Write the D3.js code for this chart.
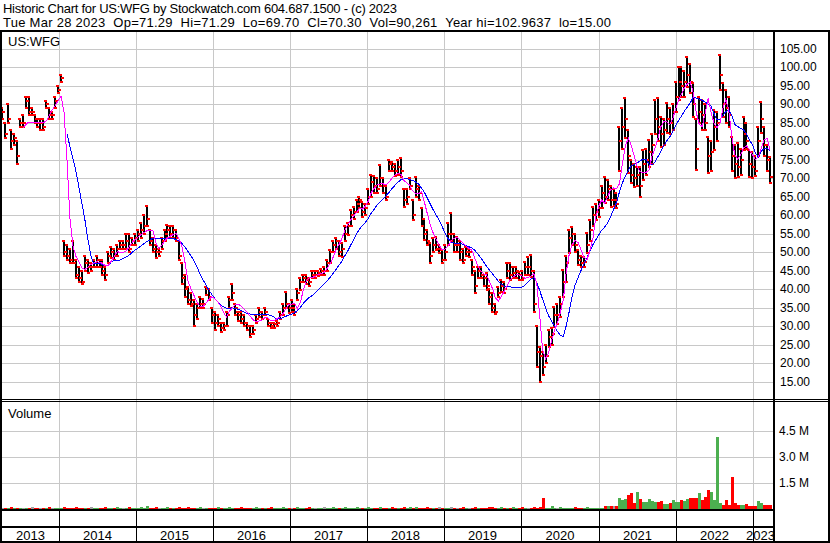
<!DOCTYPE html>
<html><head><meta charset="utf-8">
<script src="https://cdn.jsdelivr.net/npm/d3@7"></script>
<style>
html,body{margin:0;padding:0;background:#fff;}
svg{display:block;font-family:"Liberation Sans",Arial,sans-serif;}
</style></head><body>
<svg id="c" width="830" height="543"></svg>
<script>
// ---------- DATA ----------
const symbol = "US:WFG";
const headerLine1 = "Historic Chart for US:WFG by Stockwatch.com 604.687.1500 - (c) 2023";
const headerLine2 = "Tue Mar 28 2023  Op=71.29  Hi=71.29  Lo=69.70  Cl=70.30  Vol=90,261  Year hi=102.9637  lo=15.00";
const firstPeriod = "2013-04-06";   // bars are two-week periods
const periodDays = 14;
const priceHigh = [89,85,90,83,82,80,86,87,92,92,89,87,86,86,86,91,89,88,92,95,98,
 53,52,51,53,48,46,45,49,48,47,48,49,48,48,46,50,51.5,51,52,53,53,55,55,54,55,
 56,58,60,62.5,56,54,52,51,54,56,57.5,57,57,56,53,47,44,40.5,39,37,36,38,37.5,40.7,40,
 35,34,33,31,31,34,38,41.5,36,34,34,33,31,30,30,33,35,34,35,32,31,31,31.5,34,36,39.4,
 36,37,36,40,43,44,44,43,45,45,45,45.5,46,48,50.6,53,54,53,52.5,57,58,61.4,62.3,64,65,63.5,
 63,67,71,70.5,70,73.6,70,68,75,74.5,74,75,75.4,67,67,70,64,70.4,68,62,59,56,52.4,54,54.2,52,
 50.6,52,57.8,60.7,55,54.2,53,51,51.5,51,48,45,46,46,44,44.3,40,38.9,36,40.7,42.5,42,47,47,46,46,
 44.8,45,47.5,48.8,49.3,45,30,24.5,23,25,29,29.5,35.3,36,38,45.2,49,56,56.9,55,50.6,49,48.8,55.1,58.7,62.3,63,
 64,68,70.4,69.5,68,67,66,84,89,91.6,83,75,74,73,73.1,77.6,78,80.4,82,91.2,91.6,86.6,86,90.3,89,90,
 96,100.2,100,99,102.9,101,95.7,86,92,91.2,90,81.2,80,88.5,88,103.4,95.7,93.9,92,81.2,79,79.5,78,86.6,85,77.6,
 77,76,84,90.7,84,79,75.8];
const priceLow = [86,81,85,78,79,74,84,84,89,87,87,85,84,83,83,89,86,86,89,93,96,
 49,48,47,47,43,42,41.5,45,44.5,45,46,46,46,44,42.5,47,48.5,48,49,51,51,51,50,52,52,
 53,54,55,57,52,50,48.5,49,51,53,54,54,54,53,48,41.5,38,36,35.5,30,32,35,35,38.5,37,
 31,29,30,28.5,29,30,35,37,33,31.5,31,30,29,27.2,28,31,32.5,32,33,30,29.5,29.5,30,32,33,35,
 33.5,34,33,37,39.8,42,41.5,41,43,43,43.5,44,44,45,47,50,51,49,48.7,53,54.7,57,59,61,62,59.6,
 60,63,65,66,66,68,66,64,72,72,70.5,71,70.4,62.3,63,67,58.7,65,64,57,53.3,52,47,50,50.5,49.7,
 47,48,52,53,50,50,48,47,49,48.8,44,38.9,43,43,41,39.8,36,34,33.2,38,39.4,39,43,42.5,43,43,
 42.5,42.5,44,44,43.4,34,19,15,16.8,20,24.5,25,29.9,30.5,32.6,38,42,49.7,52,50,46.6,46.1,46.1,49.7,53,57,58.7,
 59.6,62,63.2,64,62.3,62.5,61.9,72,78,81,71.4,68.6,67.7,68,65,69.5,71,73.1,74,82,80,78.5,79,82.2,82,83,
 88,91.2,92,92,94.8,93,86.6,72.2,84.9,83,83,71.4,72,77.6,80,93.9,86.6,84.9,84,72,70,70.4,71,77.6,78,70.4,
 70,70.5,76,82.2,76,72,68.6];
const priceClose = [88,82,86,80,81,76,85,85,91,88,88,86,85,85,84,90,87,87,91,94,97,
 50,49,48,47,44,43,42,47,46,46,47,48,47,45,44,49,50,49,51,52,52,53,51,53,54,
 55,56,57,59,53,51,50,50,53,55,56,55,56,54,49,43,40,37,36,33,35,36,36,40,38,
 33,31,32,29.5,30,33,37,39,35,33,32,31,30,28,29,32,34,33,34,31,30,30.5,31,33,35,36,
 35,35,34,39,42,43,42.5,42,44,44,44.5,45,45,47,50,52,53,50,51,55,57,60,61,63,64,61,
 62,65,69,68,67,70,68,65,74,73,72,73,72,64,65,68,60,67,66,59,55,53,49,52,51,51,
 48,50,55,55,52,52,50,48,50,50,46,41,45,44,43,41,38,35,34,39,41,40,45,44,44.5,45,
 44,43,46,46,45,36,23,22,19,22,27,28,33,33,36,42,47,54,55,52,48,47,47.5,52,56,60,61,
 62,66,65,67,64,64,63,80,84,86,76,71,70,71,68,74,75,77,79,86,84,82,83,86,85,88,
 92,96,95,96,98,96,90,78,88,87,85,76,77,84,85,98,90,89,87,76,74,73,75,82,80,74,
 73,72,80,86,79,75,70.3];
const ma50 = [null,null,null,null,null,null,null,
 83.5,84.5,85.2,85.2,85.1,85,85,85,85.5,87,88.5,89.7,91,92.2,
 87.8,74.8,59,51.8,48.9,47.5,45.8,45.3,45.9,46.7,47.1,47.5,47.3,47,46.4,46.5,47.6,48.9,50.2,49.9,49.9,50.4,51.4,52.6,53.4,
 54.1,54.8,55.3,55.8,56,56,52.8,51.2,51.8,53,53.9,54.4,54.8,55.1,53.5,51.3,47,42,40.1,38.3,36.5,35.5,35.2,36.3,37.2,
 38,37.5,36.7,35.4,33.7,32.5,34.1,35,35.9,36,35.4,34.6,33.8,32.7,31.8,31.2,31.4,31.7,32.3,32.3,31.5,31.5,32,32.5,33.3,34.6,
 35.8,36,36.2,34.8,36.5,39.8,42.3,43.2,43.2,43.5,44,44.2,44.5,45.6,46.9,48.5,50.5,52,53.6,55.8,57.4,58.7,59.8,60.8,61.8,61.7,
 62.5,63.9,66.1,67.3,68.2,68.5,68.5,68.2,69,70,70.9,71.3,71.1,69.4,68.8,68.1,66.6,65.8,65.8,66.4,63.5,60.3,57.4,55.1,53.5,51.9,
 50.6,50.9,51.7,53,53.8,54.1,53.4,52.6,51.7,51.1,50.6,48.5,46.5,45,44.2,43.9,42.1,40.2,37.7,36.8,38,39.5,40.9,42.5,43.3,43.9,
 43.9,43.6,43,43.2,43.6,44.2,41.6,33,23.5,21.2,22.8,26,28.9,30.9,33.8,37.1,44.7,49.5,52.1,53.2,52.6,50.7,48.6,48,50.4,53.7,59.5,
 62.5,64.1,63.3,65,66.9,67.4,67.2,68.5,74,78.8,80.8,78.9,76,73.2,71.8,71.5,71.6,72.2,76,78,80.8,83.9,85.3,85.3,84.5,86,
 88.6,91,92.8,94.5,95.5,96,93,87.8,84.6,84,87.6,91.6,87.9,84.9,83.7,84.8,88.8,91.4,88.4,81.4,76.4,75.2,76.2,78.2,78.8,77.7,
 76.5,75,75.8,78.1,80.5,80.7,77.5];
const ma200 = [null,null,null,null,null,null,null,null,null,null,null,null,null,null,null,null,null,null,null,null,null,null,
 81.9,78.6,75.4,72,67.7,63.4,59.1,53.8,49.4,47,47,47,46.7,46.3,46.5,47.4,47.9,47.9,47.9,48.3,48.7,49.2,50,50.6,
 51.1,51.7,52.3,52.9,53.3,53.8,53.8,53.8,53.8,53.7,53.7,53.8,53.7,53.4,53,52.3,51.3,50.2,49,47.7,46,44.2,42.6,41.2,39.8,
 38.6,37.5,36.6,35.7,35.3,34.9,34.9,35,34.8,34.6,34.3,33.8,33.5,33.3,33.2,33.2,33.3,33.3,33.3,33.2,32.9,32.5,31.9,32.1,32.3,32.7,
 33,33.3,33.7,34.2,35.1,36.2,37,37.8,38.3,39,39.8,40.6,41.4,42.2,43.2,44.2,45.3,46.5,47.5,49,50.3,51.9,53.4,55,56.2,57.3,
 58.1,59.2,60.6,61.7,62.8,63.7,64.5,65.3,66.2,67.2,68.1,68.9,69.6,69.8,69.9,69.7,69.4,69,68.5,67.3,66.2,64.6,63,61.4,60,58.6,
 56.9,55.1,53.7,52.8,52.5,52.4,52.4,52.2,51.8,51.5,51.2,50.6,49.6,48.6,47.4,46.2,45.2,44.2,43.2,42.2,41.4,40.9,40.7,40.7,40.5,40.4,
 40.4,40.6,41.1,42,42.8,43.2,41.9,39.7,37.3,34.9,32.9,31.4,30.1,28.6,27.6,27.2,30.2,34,38.2,41.2,43.2,45.1,46.8,48.5,50.3,52,53.4,
 54.7,56,56.8,57.9,59.6,61.5,63.5,66.3,68.8,70.5,72.2,73.4,73.8,74.1,74.7,75.2,75.1,73.9,73.6,74.4,75.8,77.2,78.8,80.1,81.1,82.6,
 84.2,85.6,86.8,88.2,89.3,90.4,92,91.7,91.4,91.1,90.6,90.1,89.5,87.5,85.8,85.8,87,88.1,88.4,87.1,84.6,84,83.5,83.1,82,80.3,
 79.2,76.8,75.8,77.4,78,78.1,77.5];
const volumeM = [0.05,0.03,0.04,0.06,0.03,0.05,0.04,0.03,0.05,0.04,0.06,0.03,0.04,0.05,0.03,0.04,0.06,0.04,0.03,0.05,0.04,
 0.06,0.05,0.04,0.05,0.06,0.04,0.05,0.04,0.05,0.06,0.04,0.05,0.05,0.04,0.06,0.05,0.04,0.05,0.06,0.05,0.04,0.05,0.06,0.04,0.05,
 0.05,0.06,0.04,0.17,0.05,0.04,0.06,0.05,0.04,0.05,0.06,0.05,0.04,0.05,0.06,0.05,0.04,0.06,0.05,0.04,0.05,0.06,0.05,0.04,0.05,
 0.05,0.04,0.06,0.05,0.04,0.05,0.06,0.05,0.04,0.05,0.06,0.05,0.04,0.05,0.05,0.06,0.04,0.05,0.05,0.04,0.06,0.05,0.04,0.05,0.06,0.05,
 0.05,0.04,0.05,0.06,0.05,0.04,0.05,0.06,0.05,0.04,0.05,0.05,0.06,0.04,0.05,0.06,0.05,0.04,0.05,0.06,0.05,0.04,0.05,0.06,0.05,0.04,
 0.05,0.06,0.05,0.04,0.05,0.06,0.05,0.04,0.05,0.06,0.05,0.05,0.04,0.06,0.05,0.1,0.05,0.06,0.05,0.04,0.05,0.06,0.05,0.04,0.05,0.06,
 0.05,0.04,0.05,0.06,0.05,0.04,0.05,0.06,0.05,0.04,0.05,0.06,0.05,0.05,0.04,0.05,0.06,0.1,0.04,0.05,0.06,0.05,0.04,0.05,0.06,0.05,
 0.05,0.06,0.05,0.04,0.05,0.06,0.05,0.06,0.62,0.05,0.05,0.12,0.04,0.05,0.06,0.05,0.04,0.05,0.05,0.06,0.05,0.04,0.05,0.06,0.05,0.04,0.05,
 0.04,0.04,0.15,0.15,0.12,0.15,0.17,0.58,0.5,0.55,0.77,0.87,0.3,0.96,0.55,0.4,0.38,0.52,0.42,0.38,0.4,0.45,0.27,0.25,0.3,0.48,
 0.35,0.36,0.48,0.45,0.55,0.6,0.58,0.62,0.87,0.48,0.67,1.06,0.96,0.5,4.1,0.29,0.23,0.48,0.19,1.81,0.29,0.2,0.22,0.19,0.25,0.15,
 0.15,0.16,0.45,0.29,0.2,0.22,0.18];
const priceTicks = [15,20,25,30,35,40,45,50,55,60,65,70,75,80,85,90,95,100,105];
const volumeTicks = [1.5,3.0,4.5];
const yearLabels = ["2013","2014","2015","2016","2017","2018","2019","2020","2021","2022","2023"];

// ---------- LAYOUT ----------
const W = 830, H = 543;
const L = 2, R = 774;
const svg = d3.select("#c");
const parse = d3.timeParse("%Y-%m-%d");
const n = Math.min(priceHigh.length, priceLow.length, priceClose.length);
const t0 = parse(firstPeriod);
const dates = d3.range(n).map(i => d3.timeDay.offset(t0, i * periodDays));

const x = d3.scaleTime().domain([new Date(2014,0,1), new Date(2023,0,1)]).range([59, 752.6]);
const yP = d3.scaleLinear().domain([10,110]).range([400.3,30.3]);
const yV = d3.scaleLinear().domain([0,6]).range([508.5,404.5]);

svg.append("rect").attr("width",W).attr("height",H).attr("fill","#fff");

// header
svg.append("text").attr("x",3).attr("y",12.7).attr("font-size",13).attr("fill","#000")
  .attr("textLength",394).attr("lengthAdjust","spacing")
  .style("white-space","pre").text(headerLine1);
svg.append("text").attr("x",3).attr("y",26.7).attr("font-size",13).attr("fill","#000")
  .attr("textLength",608).attr("lengthAdjust","spacing")
  .style("white-space","pre").text(headerLine2);

// grid
const grid = svg.append("g").attr("stroke","#c8c8c8").attr("stroke-width",1).attr("shape-rendering","crispEdges");
priceTicks.forEach(v => grid.append("line").attr("x1",L).attr("x2",R)
  .attr("y1",Math.round(yP(v))+0.5).attr("y2",Math.round(yP(v))+0.5));
volumeTicks.forEach(v => grid.append("line").attr("x1",L).attr("x2",R)
  .attr("y1",Math.round(yV(v))+0.5).attr("y2",Math.round(yV(v))+0.5));
const yearStarts = d3.timeYear.range(new Date(2014,0,1), new Date(2023,0,2));
yearStarts.forEach(d => grid.append("line").attr("y1",32).attr("y2",509)
  .attr("x1",Math.round(x(d))+0.5).attr("x2",Math.round(x(d))+0.5));

// clip
const defs = svg.append("defs");
defs.append("clipPath").attr("id","pc").append("rect").attr("x",L).attr("y",32).attr("width",R-1-L).attr("height",367);
defs.append("clipPath").attr("id","vc").append("rect").attr("x",L).attr("y",402).attr("width",R-1-L).attr("height",107);

// symbol label
svg.append("text").attr("x",8).attr("y",46).attr("font-size",13).attr("fill","#000").text(symbol);
svg.append("text").attr("x",8).attr("y",417.7).attr("font-size",13).attr("fill","#000").text("Volume");

// price bars
const bars = dates.map((d,i) => ({d, hi:priceHigh[i], lo:priceLow[i], cl:priceClose[i], i}));
const pg = svg.append("g").attr("clip-path","url(#pc)").attr("shape-rendering","crispEdges");
pg.selectAll("rect.hl").data(bars).join("rect").attr("class","hl")
  .attr("x", d => Math.round(x(d.d)) - 1).attr("width", 2)
  .attr("y", d => Math.round(yP(d.hi)))
  .attr("height", d => Math.max(1, Math.round(yP(d.lo)) - Math.round(yP(d.hi))))
  .attr("fill","#000");
// red ticks at the extremes and at the close of each period
const ticks = bars.flatMap(d => [{d:d.d, v:d.hi, o:-2}, {d:d.d, v:d.lo, o:-1}, {d:d.d, v:d.cl, o:0}]);
pg.selectAll("rect.tk").data(ticks).join("rect").attr("class","tk")
  .attr("x", t => Math.round(x(t.d)) + t.o).attr("width", 3)
  .attr("y", t => Math.round(yP(t.v)) - 1).attr("height", 2)
  .attr("fill","#ff0000");

// moving averages
const lineGen = arr => d3.line().defined((d,i) => arr[i] != null)
  .x((d,i) => x(dates[i])).y((d,i) => yP(arr[i]));
pg.append("path").datum(dates).attr("d", lineGen(ma200)).attr("fill","none")
  .attr("stroke","#0000ff").attr("stroke-width",1);
pg.append("path").datum(dates).attr("d", lineGen(ma50)).attr("fill","none")
  .attr("stroke","#ff00ff").attr("stroke-width",1);

// volume
const vg = svg.append("g").attr("clip-path","url(#vc)").attr("shape-rendering","crispEdges");
vg.selectAll("rect").data(bars).join("rect")
  .attr("x", d => Math.round(x(d.d)) - 1).attr("width", 3)
  .attr("y", d => yV(volumeM[d.i]))
  .attr("height", d => Math.max(1, yV(0) - yV(volumeM[d.i])))
  .attr("fill", d => {
    if (d.i === 0) return "#999";
    const p = priceClose[d.i-1];
    return d.cl > p ? "#4caf50" : (d.cl < p ? "#ff0000" : "#a0a0a0");
  });

// axes
const pAxis = d3.axisRight(yP).tickValues(priceTicks).tickFormat(d3.format(".2f")).tickSize(0).tickPadding(5);
const pa = svg.append("g").attr("transform","translate(775,0)").call(pAxis);
pa.select(".domain").remove();
pa.selectAll("text").attr("font-size",12).attr("font-family",'"Liberation Sans",Arial,sans-serif').attr("fill","#000").attr("dy","0.3em");
const vAxis = d3.axisRight(yV).tickValues(volumeTicks).tickFormat(d => d.toFixed(1) + " M").tickSize(0).tickPadding(4);
const va = svg.append("g").attr("transform","translate(775,0)").call(vAxis);
va.select(".domain").remove();
va.selectAll("text").attr("font-size",12).attr("font-family",'"Liberation Sans",Arial,sans-serif').attr("fill","#000").attr("dy","0.3em");

// year cells
const bounds = [L].concat(yearStarts.map(d => Math.round(x(d)))).concat([R-1]);
const fr = svg.append("g").attr("shape-rendering","crispEdges");
yearStarts.forEach(d => fr.append("line").attr("x1",Math.round(x(d))+0.5).attr("x2",Math.round(x(d))+0.5)
  .attr("y1",509).attr("y2",541).attr("stroke","#000").attr("stroke-width",1));
yearLabels.forEach((lab,i) => {
  const a = bounds[i], b = bounds[i+1];
  const t = svg.append("text").attr("y",539.5).attr("font-size",13).attr("fill","#000")
    .attr("text-anchor","middle").text(lab);
  const w = t.node().getComputedTextLength();
  let cx = (a + b) / 2;
  if (cx + w/2 > 775) cx = 775 - w/2;
  t.attr("x", cx);
});

// frame lines
const fl = (x1,y1,x2,y2,w) => fr.append("line").attr("x1",x1).attr("y1",y1).attr("x2",x2).attr("y2",y2)
  .attr("stroke","#000").attr("stroke-width",w);
fl(0,31,W,31,2);          // top
fl(1,30,1,H,2);           // left
fl(829,30,829,H,2);       // right
fl(0,542,W,542,2);        // bottom
fl(774,30,774,H,2);       // separator
fl(0,399.5,W,399.5,1);    // double line
fl(0,401.5,W,401.5,1);
fl(0,509.5,774,509.5,2);  // volume bottom
fl(0,527,774,527,2);      // row line
</script>
</body></html>
